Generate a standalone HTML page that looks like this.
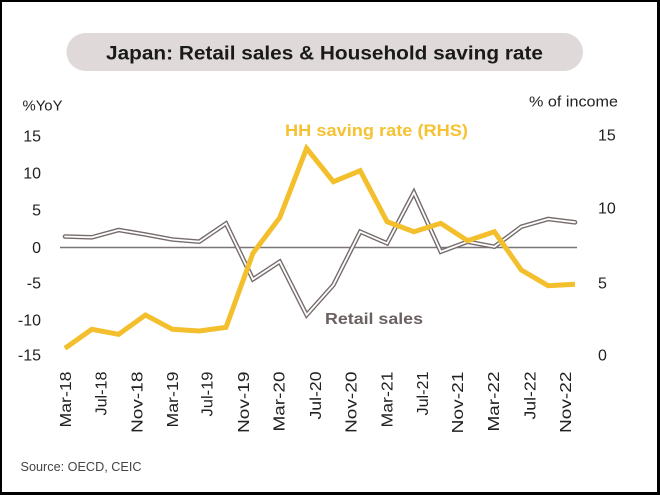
<!DOCTYPE html>
<html>
<head>
<meta charset="utf-8">
<style>
  html,body{margin:0;padding:0;}
  body{width:660px;height:495px;background:#000;position:relative;overflow:hidden;}
  .inner{position:absolute;left:2px;top:2px;width:655px;height:490px;background:#fff;}
  svg{position:absolute;left:0;top:0;}
  text{font-family:"Liberation Sans",sans-serif;}
</style>
</head>
<body>
<div class="inner"></div>
<svg width="660" height="495" viewBox="0 0 660 495" xmlns="http://www.w3.org/2000/svg">
  <!-- Title pill -->
  <rect x="66.5" y="33" width="516.5" height="38" rx="19" ry="19" fill="#e0d9d9"/>
  <text x="106" y="59.5" font-size="19" font-weight="bold" fill="#1a1a1a" textLength="437" lengthAdjust="spacingAndGlyphs">Japan: Retail sales &amp; Household saving rate</text>

  <!-- Axis titles -->
  <text x="22.5" y="110.5" font-size="15" fill="#222" textLength="40" lengthAdjust="spacingAndGlyphs">%YoY</text>
  <text x="529" y="106.5" font-size="15" fill="#222" textLength="89" lengthAdjust="spacingAndGlyphs">% of income</text>

  <!-- Left ticks -->
  <g font-size="16" fill="#222" text-anchor="end">
    <text x="41" y="141.5">15</text>
    <text x="41" y="178.5">10</text>
    <text x="41" y="215.5">5</text>
    <text x="41" y="253">0</text>
    <text x="41" y="288.5">-5</text>
    <text x="41" y="325.5">-10</text>
    <text x="41" y="360.5">-15</text>
  </g>
  <!-- Right ticks -->
  <g font-size="16" fill="#222">
    <text x="598" y="140.5">15</text>
    <text x="598" y="213.5">10</text>
    <text x="598" y="288.5">5</text>
    <text x="598" y="360.5">0</text>
  </g>

  <!-- Zero line -->
  <line x1="60" y1="247.5" x2="577" y2="247.5" stroke="#7a7676" stroke-width="1.4"/>

  <!-- Retail sales (double line) -->
  <polyline fill="none" stroke="#766c6c" stroke-width="4.6" stroke-linejoin="miter" stroke-miterlimit="10" stroke-linecap="round"
    points="65,236.5 91.8,237.3 118.7,230 145.5,234.5 172.4,239.5 199.2,241.7 226,223.5 252.9,279.3 279.7,261.7 306.6,315 333.4,285 360.2,231.7 387.1,243.3 413.9,192.5 440.8,251.7 467.6,241.7 494.4,246.7 521.3,226.7 548.1,219 575,222.3"/>
  <polyline fill="none" stroke="#ffffff" stroke-width="1.8" stroke-linejoin="miter" stroke-miterlimit="10" stroke-linecap="round"
    points="65,236.5 91.8,237.3 118.7,230 145.5,234.5 172.4,239.5 199.2,241.7 226,223.5 252.9,279.3 279.7,261.7 306.6,315 333.4,285 360.2,231.7 387.1,243.3 413.9,192.5 440.8,251.7 467.6,241.7 494.4,246.7 521.3,226.7 548.1,219 575,222.3"/>

  <!-- Saving rate -->
  <polyline fill="none" stroke="#f4bf2c" stroke-width="5" stroke-linejoin="miter" stroke-miterlimit="10" stroke-linecap="butt"
    points="65,348.3 91.8,329.3 118.7,334.3 145.5,315 172.4,329.3 199.2,331 226,327.3 252.9,253.3 279.7,217.7 306.6,148.3 333.4,181.7 360.2,170.7 387.1,221.7 413.9,231.7 440.8,223.3 467.6,240.7 494.4,231.7 521.3,270 548.1,285.7 575,284.3"/>

  <!-- Series labels -->
  <text x="285" y="136" font-size="17" font-weight="bold" fill="#f4c233" textLength="183" lengthAdjust="spacingAndGlyphs">HH saving rate (RHS)</text>
  <text x="325" y="324" font-size="16" font-weight="bold" fill="#6b6161" textLength="98" lengthAdjust="spacingAndGlyphs">Retail sales</text>

  <!-- X labels -->
  <g font-size="16" fill="#222" text-anchor="end">
    <text transform="translate(71,371.5) rotate(-90)" textLength="56" lengthAdjust="spacingAndGlyphs">Mar-18</text>
    <text transform="translate(106.5,371.5) rotate(-90)" textLength="44" lengthAdjust="spacingAndGlyphs">Jul-18</text>
    <text transform="translate(142.5,371.5) rotate(-90)" textLength="61.5" lengthAdjust="spacingAndGlyphs">Nov-18</text>
    <text transform="translate(178,371.5) rotate(-90)" textLength="56" lengthAdjust="spacingAndGlyphs">Mar-19</text>
    <text transform="translate(212.5,371.5) rotate(-90)" textLength="45" lengthAdjust="spacingAndGlyphs">Jul-19</text>
    <text transform="translate(249,371.5) rotate(-90)" textLength="61.5" lengthAdjust="spacingAndGlyphs">Nov-19</text>
    <text transform="translate(284.5,371.5) rotate(-90)" textLength="60" lengthAdjust="spacingAndGlyphs">Mar-20</text>
    <text transform="translate(321,371.5) rotate(-90)" textLength="48" lengthAdjust="spacingAndGlyphs">Jul-20</text>
    <text transform="translate(356.5,371.5) rotate(-90)" textLength="61.5" lengthAdjust="spacingAndGlyphs">Nov-20</text>
    <text transform="translate(392.5,371.5) rotate(-90)" textLength="56" lengthAdjust="spacingAndGlyphs">Mar-21</text>
    <text transform="translate(428,371.5) rotate(-90)" textLength="44" lengthAdjust="spacingAndGlyphs">Jul-21</text>
    <text transform="translate(463,371.5) rotate(-90)" textLength="62" lengthAdjust="spacingAndGlyphs">Nov-21</text>
    <text transform="translate(499,371.5) rotate(-90)" textLength="60" lengthAdjust="spacingAndGlyphs">Mar-22</text>
    <text transform="translate(535.5,371.5) rotate(-90)" textLength="48" lengthAdjust="spacingAndGlyphs">Jul-22</text>
    <text transform="translate(571,371.5) rotate(-90)" textLength="61.5" lengthAdjust="spacingAndGlyphs">Nov-22</text>
  </g>

  <!-- Source -->
  <text x="20.5" y="471" font-size="13" fill="#444" textLength="121" lengthAdjust="spacingAndGlyphs">Source: OECD, CEIC</text>
</svg>
</body>
</html>
